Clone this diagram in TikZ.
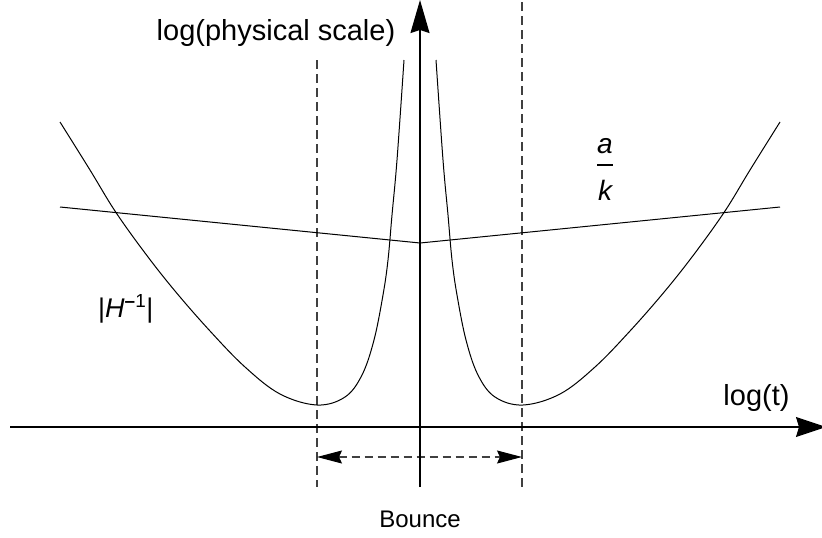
\documentclass[tikz,border=0pt]{standalone}
\usepackage{fontspec}
\setmainfont{Liberation Sans}
\usetikzlibrary{arrows.meta}
\begin{document}
\begin{tikzpicture}[x=1pt,y=-1pt,
  axis/.style={line width=1.2pt,-{Stealth[length=33pt,width=19pt,inset=3pt]}},
  curve/.style={line width=1pt},
  guide/.style={line width=1.1pt,black!75,dash pattern=on 9pt off 5pt},
  lbl/.style={inner sep=0pt,anchor=base,font=\fontsize{29}{32}\selectfont},
  bouncearrow/.style={line width=1.1pt,black!75,dash pattern=on 8pt off 5pt,
    {Stealth[length=25pt,width=13pt,inset=3pt,black]}-{Stealth[length=25pt,width=13pt,inset=3pt,black]}}]
\useasboundingbox (0,0) rectangle (822,538);
% coordinates
\coordinate (ybot) at (420,487);
\coordinate (ytop) at (420,0);
\coordinate (xleft) at (10,427);
\coordinate (xright) at (826,427);
\coordinate (dlt) at (317,60);
\coordinate (dlb) at (317,487);
\coordinate (drt) at (522,2);
\coordinate (drb) at (522,487);
\coordinate (bl) at (317,457);
\coordinate (br) at (522,457);
\coordinate (ak1) at (60,207);
\coordinate (ak2) at (420,243);
\coordinate (ak3) at (780,207);
% guides
\draw[guide] (dlt) -- (dlb);
\draw[guide] (drt) -- (drb);
\draw[bouncearrow] (bl) -- (br);
% axes
\draw[axis] (ybot) -- (ytop);
\draw[axis,-{Stealth[length=30pt,width=20pt,inset=3pt]}] (xleft) -- (xright);
% a/k lines
\draw[curve] (ak1) -- (ak2) -- (ak3);
% |H^-1| curves
\draw[curve] plot[smooth,tension=0.6] coordinates {(60,122) (90,170) (115,211) (145,253) (175,291) (210,331) (245,367) (280,394) (317,405) (345,397) (362,375) (374,340) (383,295) (388,260) (392,215) (397,160) (404,60)};
\draw[curve] plot[smooth,tension=0.6] coordinates {(780,122) (750,170) (725,211) (695,253) (665,291) (630,331) (595,367) (560,394) (523,405) (495,397) (478,375) (466,340) (457,295) (452,260) (448,215) (443,160) (436,60)};
% labels
\node[lbl] (ylabel) at (276,40) {log(physical scale)};
\node[lbl] (xlabel) at (756.5,405) {log(t)};
\node[lbl,font=\fontsize{28}{30}\selectfont\itshape] (anum) at (605,153) {a};
\node[lbl,font=\fontsize{28}{30}\selectfont\itshape] (kden) at (605,200) {k};
\coordinate (barl) at (597,165);
\coordinate (barr) at (613,165);
\draw[line width=2pt] (barl) -- (barr);
\node[lbl,anchor=base west,font=\fontsize{27}{30}\selectfont] (hlabel) at (98,317) {|\textit{H}\textsuperscript{\textbf{–}1}|};
\node[lbl,font=\fontsize{24}{28}\selectfont] (bounce) at (420,527) {Bounce};
\end{tikzpicture}
\end{document}
